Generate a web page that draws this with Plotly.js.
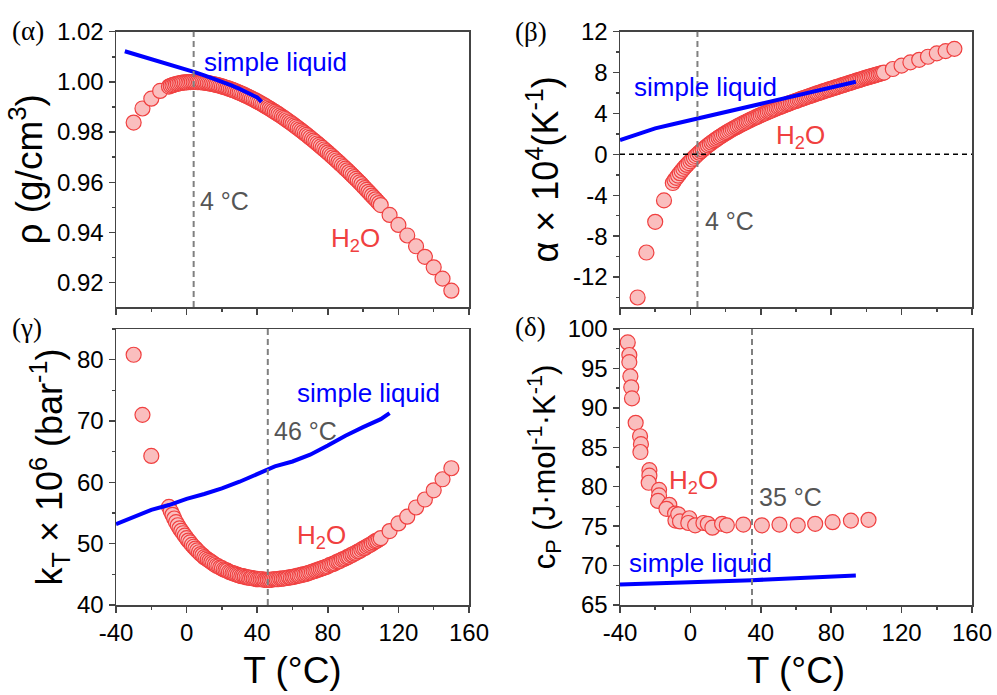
<!DOCTYPE html>
<html>
<head>
<meta charset="utf-8">
<script src="https://cdn.plot.ly/plotly-3.0.1.min.js"></script>
<style>html,body{margin:0;padding:0;background:#fff}#chart{width:997px;height:695px}</style>
</head>
<body>
<div id="chart"></div>
<script>
// ---------- DATA ----------
const tempWater = [-30,-25,-20,-15,
 -10,-9,-8,-7,-6,-5,-4,-3,-2,-1,
 0,1,2,3,4,5,6,7,8,9,
 10,11,12,13,14,15,16,17,18,19,
 20,21,22,23,24,25,26,27,28,29,
 30,31,32,33,34,35,36,37,38,39,
 40,41,42,43,44,45,46,47,48,49,
 50,51,52,53,54,55,56,57,58,59,
 60,61,62,63,64,65,66,67,68,69,
 70,71,72,73,74,75,76,77,78,79,
 80,81,82,83,84,85,86,87,88,89,
 90,91,92,93,94,95,96,97,98,99,
 100,101,102,103,104,105,106,107,108,109,110,
 115,120,125,130,135,140,145,150];

const rhoWater = [0.9838,0.9894,0.9933,0.9964,
 0.99815,0.99843,0.99869,0.99892,0.99912,0.99930,0.99945,0.99958,0.99970,0.99979,
 0.99984,0.99990,0.99994,0.99996,0.99997,0.99996,0.99994,0.99990,0.99985,0.99978,
 0.99970,0.99961,0.99950,0.99938,0.99925,0.99910,0.99894,0.99878,0.99860,0.99841,
 0.99820,0.99799,0.99777,0.99754,0.99730,0.99705,0.99678,0.99652,0.99624,0.99595,
 0.99565,0.99534,0.99503,0.99470,0.99437,0.99403,0.99369,0.99333,0.99297,0.99260,
 0.99222,0.99183,0.99144,0.99104,0.99063,0.99021,0.98979,0.98936,0.98893,0.98848,
 0.98804,0.98758,0.98712,0.98665,0.98617,0.98569,0.98521,0.98471,0.98421,0.98371,
 0.98320,0.98268,0.98216,0.98163,0.98109,0.98055,0.98001,0.97946,0.97890,0.97834,
 0.97778,0.97720,0.97663,0.97605,0.97546,0.97487,0.97427,0.97367,0.97306,0.97245,
 0.97183,0.97121,0.97059,0.96996,0.96932,0.96868,0.96804,0.96739,0.96673,0.96608,
 0.96541,0.96475,0.96408,0.96340,0.96272,0.96203,0.96134,0.96065,0.95995,0.95925,
 0.95840,0.95767,0.95694,0.95620,0.95546,0.95471,0.95396,0.95320,0.95244,0.95168,0.95091,
 0.9470,0.9430,0.9388,0.9345,0.9303,0.9261,0.9216,0.9168];

const alphaWater = [-14.0,-9.6,-6.6,-4.5,
 -2.80,-2.54,-2.30,-2.07,-1.84,-1.62,-1.42,-1.22,-1.03,-0.85,
 -0.68,-0.50,-0.33,-0.16,0.00,0.16,0.31,0.46,0.60,0.74,
 0.88,1.01,1.14,1.27,1.39,1.51,1.63,1.74,1.85,1.96,
 2.07,2.17,2.28,2.38,2.47,2.57,2.66,2.76,2.85,2.94,
 3.03,3.11,3.20,3.28,3.37,3.45,3.53,3.61,3.69,3.77,
 3.85,3.92,4.00,4.07,4.15,4.22,4.29,4.37,4.44,4.51,
 4.58,4.64,4.71,4.78,4.85,4.91,4.98,5.04,5.11,5.17,
 5.23,5.29,5.36,5.42,5.48,5.54,5.60,5.66,5.72,5.78,
 5.84,5.90,5.96,6.01,6.07,6.13,6.19,6.24,6.30,6.35,
 6.41,6.46,6.52,6.57,6.63,6.68,6.74,6.79,6.85,6.90,
 6.96,7.01,7.07,7.12,7.18,7.23,7.28,7.34,7.39,7.45,
 7.50,7.55,7.60,7.65,7.70,7.75,7.80,7.85,7.90,7.95,8.00,
 8.35,8.68,9.00,9.25,9.55,9.88,10.10,10.32];

const kappaWater = [80.8,71.0,64.3,null,
 56.0,55.3,54.7,54.1,53.5,53.0,52.5,52.1,51.7,51.3,
 50.9,50.5,50.2,49.8,49.5,49.2,48.9,48.6,48.3,48.1,
 47.8,47.6,47.4,47.2,47.0,46.8,46.6,46.4,46.3,46.1,
 46.0,45.8,45.7,45.6,45.4,45.3,45.2,45.1,45.0,44.9,
 44.8,44.7,44.7,44.6,44.5,44.5,44.4,44.4,44.3,44.3,
 44.2,44.2,44.2,44.2,44.1,44.1,44.1,44.1,44.1,44.2,
 44.2,44.2,44.2,44.3,44.3,44.3,44.4,44.4,44.5,44.5,
 44.6,44.6,44.7,44.8,44.8,44.9,45.0,45.0,45.1,45.2,
 45.3,45.4,45.5,45.6,45.7,45.8,45.9,46.0,46.1,46.2,
 46.3,46.5,46.6,46.7,46.8,47.0,47.1,47.2,47.4,47.5,
 47.6,47.8,47.9,48.1,48.2,48.4,48.5,48.7,48.8,49.0,
 49.2,49.3,49.5,49.7,49.8,50.0,50.2,50.4,50.5,50.7,50.9,
 52.05,53.3,54.4,55.9,57.2,58.7,60.5,62.3];

const tempCp = [-35.6,-34.7,-34.7,-34.1,-33.6,-33.2,-31.1,-28.6,-28.1,-28.4,
 -23.3,-23.3,-23.7,-17.8,-17.8,-18.4,-12.0,-13.6,-8.7,-8.5,
 -6.9,-5.9,-0.6,-1.2,2.7,7.4,9.9,12.5,18.0,20.7,
 30.1,40.6,50.6,61.0,70.9,80.8,91.2,101.2];
const cpWater = [98.3,96.7,95.8,94.0,92.6,91.2,88.1,86.4,85.4,84.4,
 82.1,81.4,80.5,79.6,78.9,78.2,77.7,77.2,76.6,75.7,
 76.5,75.6,76.0,75.4,75.1,75.4,75.3,74.8,75.3,75.1,
 75.2,75.1,75.2,75.1,75.3,75.5,75.7,75.8];

const slRhoT = [-35,-30,-25,-20,-15,-10,-5,0,5,10,15,20,25,30,35,40,42.5];
const slRho  = [1.0122,1.0112,1.0102,1.0092,1.0082,1.0071,1.0060,1.0049,1.0038,1.0026,1.0014,1.0001,0.9987,0.9972,0.9956,0.9938,0.9920];
const slAlphaT = [-40,-30,-20,-10,0,10,20,30,40,50,60,70,80,90,94];
const slAlpha  = [1.4,2.0,2.55,2.95,3.35,3.8,4.2,4.6,5.0,5.4,5.8,6.2,6.55,6.95,7.1];
const slKappaT = [-40,-30,-20,-10,0,10,20,30,40,46,50,60,70,80,90,100,110,115];
const slKappa  = [53.2,54.3,55.5,56.3,57.3,58.1,59.0,60.1,61.4,62.1,62.6,63.4,64.5,66.0,67.6,69.0,70.3,71.3];
const slCpT = [-40,-20,0,20,35,50,70,94];
const slCp  = [67.6,67.72,67.85,68.0,68.15,68.3,68.5,68.75];

const markT = [4, 4, 46, 35];   // vertical reference temperatures (°C)

const xTickVals = [-40,0,40,80,120,160];
const xTickText = ['-40','0','40','80','120','160'];
const rhoTickVals = [0.92,0.94,0.96,0.98,1.00,1.02];
const rhoTickText = ['0.92','0.94','0.96','0.98','1.00','1.02'];
const alphaTickVals = [-12,-8,-4,0,4,8,12];
const alphaTickText = ['-12','-8','-4','0','4','8','12'];
const kappaTickVals = [40,50,60,70,80];
const kappaTickText = ['40','50','60','70','80'];
const cpTickVals = [65,70,75,80,85,90,95,100];
const cpTickText = ['65','70','75','80','85','90','95','100'];

// ---------- STYLE ----------
const FONT = 'Liberation Sans, Arial, sans-serif';
const RED = 'rgb(240,64,64)';
const PINK = 'rgb(250,190,190)';
const BLUE = 'rgb(0,0,255)';
const GRAY = '#555555';
const AX = '#444444';

const mk = {size: 15, color: PINK, line: {color: RED, width: 1.2}};

function water(x, y, xa, ya) {
  return {x: x, y: y, xaxis: xa, yaxis: ya, type: 'scatter', mode: 'markers', marker: mk, hoverinfo: 'skip'};
}
function simple(x, y, xa, ya) {
  return {x: x, y: y, xaxis: xa, yaxis: ya, type: 'scatter', mode: 'lines', line: {color: BLUE, width: 4}, hoverinfo: 'skip'};
}

const data = [
  water(tempWater, rhoWater, 'x', 'y'),   simple(slRhoT, slRho, 'x', 'y'),
  water(tempWater, alphaWater, 'x2', 'y2'), simple(slAlphaT, slAlpha, 'x2', 'y2'),
  water(tempWater, kappaWater, 'x3', 'y3'), simple(slKappaT, slKappa, 'x3', 'y3'),
  water(tempCp, cpWater, 'x4', 'y4'),     simple(slCpT, slCp, 'x4', 'y4')
];

const xl = [116/997, 469/997], xr = [620/997, 972/997];
const yt = [1-307/695, 1-31.7/695], yb = [1-605/695, 1-329/695];

function xaxis(dom, anchor, labels) {
  return {
    domain: dom, anchor: anchor, range: [-40,160],
    tickmode: 'array', tickvals: xTickVals, ticktext: xTickText, showticklabels: labels,
    ticks: 'outside', ticklen: 6, tickwidth: 1.5, tickcolor: AX,
    minor: {tickmode: 'linear', tick0: -40, dtick: 20, ticks: 'outside', ticklen: 3, tickwidth: 1.5, tickcolor: AX},
    showline: true, linecolor: AX, linewidth: 1.5, mirror: true,
    showgrid: false, zeroline: false,
    tickfont: {family: FONT, size: 24, color: '#000'},
    title: labels ? {text: 'T (°C)', font: {family: FONT, size: 37, color: '#000'}, standoff: 12} : {text: ''}
  };
}
function yaxis(dom, anchor, range, tv, tt, minorStep, titleText, tsize) {
  return {
    domain: dom, anchor: anchor, range: range,
    tickmode: 'array', tickvals: tv, ticktext: tt,
    ticks: 'outside', ticklen: 6, tickwidth: 1.5, tickcolor: AX,
    minor: {tickmode: 'linear', tick0: tv[0], dtick: minorStep, ticks: 'outside', ticklen: 3, tickwidth: 1.5, tickcolor: AX},
    showline: true, linecolor: AX, linewidth: 1.5, mirror: true,
    showgrid: false, zeroline: false,
    tickfont: {family: FONT, size: 24, color: '#000'},
    title: {text: titleText, font: {family: FONT, size: tsize, color: '#000'}, standoff: 3}
  };
}

function vline(xa, ya, t) {
  return {type: 'line', xref: xa, yref: ya + ' domain', x0: t, x1: t, y0: 0, y1: 1,
          line: {color: '#808080', width: 2, dash: '6px,4px'}};
}

function txt(xa, ya, x, y, s, color, size) {
  return {xref: xa, yref: ya, x: x, y: y, text: s, showarrow: false, xanchor: 'left', yanchor: 'middle',
          font: {family: FONT, size: size, color: color}};
}
function plab(x, y, s) {
  return {xref: 'paper', yref: 'paper', x: x, y: y, text: s, showarrow: false, xanchor: 'left', yanchor: 'middle',
          font: {family: 'Liberation Serif, Times New Roman, serif', size: 27, color: '#000'}};
}

const layout = {
  width: 997, height: 695,
  margin: {l: 0, r: 0, t: 0, b: 0},
  paper_bgcolor: '#fff', plot_bgcolor: '#fff',
  showlegend: false, hovermode: false,
  xaxis:  xaxis(xl, 'y', false),
  yaxis:  yaxis(yt, 'x', [0.9103, 1.02], rhoTickVals, rhoTickText, 0.01, 'ρ (g/cm<sup>3</sup>)', 37),
  xaxis2: xaxis(xr, 'y2', false),
  yaxis2: yaxis(yt, 'x2', [-14.93, 12], alphaTickVals, alphaTickText, 2, 'α × 10<sup>4</sup>(K<sup>-1</sup>)', 36),
  xaxis3: xaxis(xl, 'y3', true),
  yaxis3: yaxis(yb, 'x3', [40, 85], kappaTickVals, kappaTickText, 5, 'k<sub>T</sub> × 10<sup>6</sup> (bar<sup>-1</sup>)', 36),
  xaxis4: xaxis(xr, 'y4', true),
  yaxis4: yaxis(yb, 'x4', [65, 100], cpTickVals, cpTickText, 2.5, 'c<sub>P</sub> (J·mol<sup>-1</sup>·K<sup>-1</sup>)', 31),
  shapes: [
    vline('x', 'y', markT[0]),
    vline('x2', 'y2', markT[1]),
    vline('x3', 'y3', markT[2]),
    vline('x4', 'y4', markT[3]),
    {type: 'line', xref: 'x2 domain', yref: 'y2', x0: 0, x1: 1, y0: 0, y1: 0,
     line: {color: '#000', width: 1.5, dash: '5px,4px'}}
  ],
  annotations: [
    txt('x', 'y', 9, 1.00785, 'simple liquid', BLUE, 26),
    txt('x', 'y', 6.4, 0.9527, '4 °C', GRAY, 25),
    txt('x', 'y', 80.6, 0.937, 'H<sub>2</sub>O', RED, 26),
    txt('x2', 'y2', -33.3, 6.59, 'simple liquid', BLUE, 26),
    txt('x2', 'y2', 7.1, -6.54, '4 °C', GRAY, 25),
    txt('x2', 'y2', 47.5, 1.71, 'H<sub>2</sub>O', RED, 26),
    txt('x3', 'y3', 61.3, 74.5, 'simple liquid', BLUE, 26),
    txt('x3', 'y3', 48.4, 68.4, '46 °C', GRAY, 25),
    txt('x3', 'y3', 61.4, 51.2, 'H<sub>2</sub>O', RED, 26),
    txt('x4', 'y4', -36, 70.35, 'simple liquid', BLUE, 26),
    txt('x4', 'y4', 37.8, 78.74, '35 °C', GRAY, 25),
    txt('x4', 'y4', -13.3, 80.63, 'H<sub>2</sub>O', RED, 26),
    plab(10/997, 1-31/695, '(α)'),
    plab(513/997, 1-32/695, '(β)'),
    plab(10/997, 1-328/695, '(γ)'),
    plab(513/997, 1-327/695, '(δ)')
  ]
};

Plotly.newPlot('chart', data, layout, {displayModeBar: false, staticPlot: true});
</script>
</body>
</html>
